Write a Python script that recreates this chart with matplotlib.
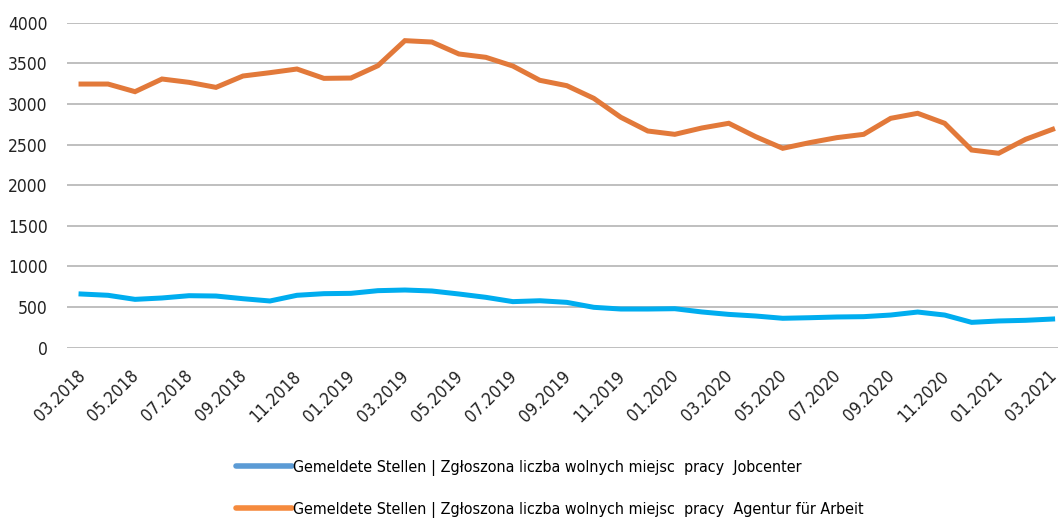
# Gemeldete Stellen: Jobcenter vs Agentur für Arbeit, 03.2018 - 03.2021
import matplotlib
matplotlib.use("Agg")
import matplotlib.pyplot as plt
import matplotlib.transforms as mtransforms

plt.rcParams['font.family'] = ['DejaVu Sans']
plt.rcParams['font.stretch'] = 'condensed'

# ---------------- data ----------------
months = [
    "03.2018", "04.2018", "05.2018", "06.2018", "07.2018", "08.2018",
    "09.2018", "10.2018", "11.2018", "12.2018", "01.2019", "02.2019",
    "03.2019", "04.2019", "05.2019", "06.2019", "07.2019", "08.2019",
    "09.2019", "10.2019", "11.2019", "12.2019", "01.2020", "02.2020",
    "03.2020", "04.2020", "05.2020", "06.2020", "07.2020", "08.2020",
    "09.2020", "10.2020", "11.2020", "12.2020", "01.2021", "02.2021",
    "03.2021",
]

jobcenter = [
    661, 645, 595, 612, 640, 636, 603, 575, 645, 665, 669, 702,
    710, 698, 661, 620, 567, 578, 558, 497, 476, 476, 480, 440,
    410, 390, 362, 369, 378, 382, 402, 439, 402, 312, 329, 337,
    353,
]

agentur = [
    3245, 3245, 3151, 3307, 3266, 3204, 3344, 3385, 3430, 3315, 3319, 3471,
    3779, 3762, 3615, 3574, 3467, 3291, 3225, 3069, 2836, 2667, 2626, 2704,
    2762, 2597, 2454, 2524, 2585, 2626, 2823, 2885, 2762, 2433, 2393, 2565,
    2688,
]

label_jc = "Gemeldete Stellen | Zgłoszona liczba wolnych miejsc  pracy  Jobcenter"
label_aa = "Gemeldete Stellen | Zgłoszona liczba wolnych miejsc  pracy  Agentur für Arbeit"

# ---------------- plot ----------------
W, H = 1058, 520
fig = plt.figure(figsize=(W / 100, H / 100), dpi=100)
ax = fig.add_axes([67 / W, 1 - 347.7 / H, 1 - 67 / W, (347.7 - 22.7) / H])

x = list(range(len(months)))
ax.plot(x, jobcenter, color="#00ADEF", lw=3.6, solid_joinstyle="miter")
ax.plot(x, agentur, color="#E2793A", lw=3.6, solid_joinstyle="miter")

ax.set_xlim(-0.52, 36.2)
ax.set_ylim(0, 4000)
ax.set_yticks(range(0, 4001, 500))
ax.set_xticks(x[::2])
ax.set_xticklabels(months[::2], rotation=45, ha="right", rotation_mode="anchor")
ax.tick_params(axis="both", length=0, labelsize=12.5, colors="#222222")
ax.tick_params(axis="x", pad=14)
ax.tick_params(axis="y", pad=14)

# nudge the rotated month labels a little to the left
shift = mtransforms.ScaledTranslation(-5 / 100, 0, fig.dpi_scale_trans)
for lbl in ax.get_xticklabels():
    lbl.set_transform(lbl.get_transform() + shift)

ax.grid(axis="y", color="#BFBFBF", lw=1.4)
ax.set_axisbelow(True)
for s in ax.spines.values():
    s.set_visible(False)

h1, = plt.plot([], [], color="#5B9BD5", lw=4, solid_capstyle="round")
h2, = plt.plot([], [], color="#F58A3D", lw=4, solid_capstyle="round")
fig.legend([h1, h2], [label_jc, label_aa],
           loc="upper left", bbox_to_anchor=(228 / W, 1 - 452 / H),
           frameon=False, fontsize=11.5, handlelength=3.5,
           handletextpad=0.1, labelspacing=1.6, borderpad=0)

fig.savefig("out.png", dpi=100)
